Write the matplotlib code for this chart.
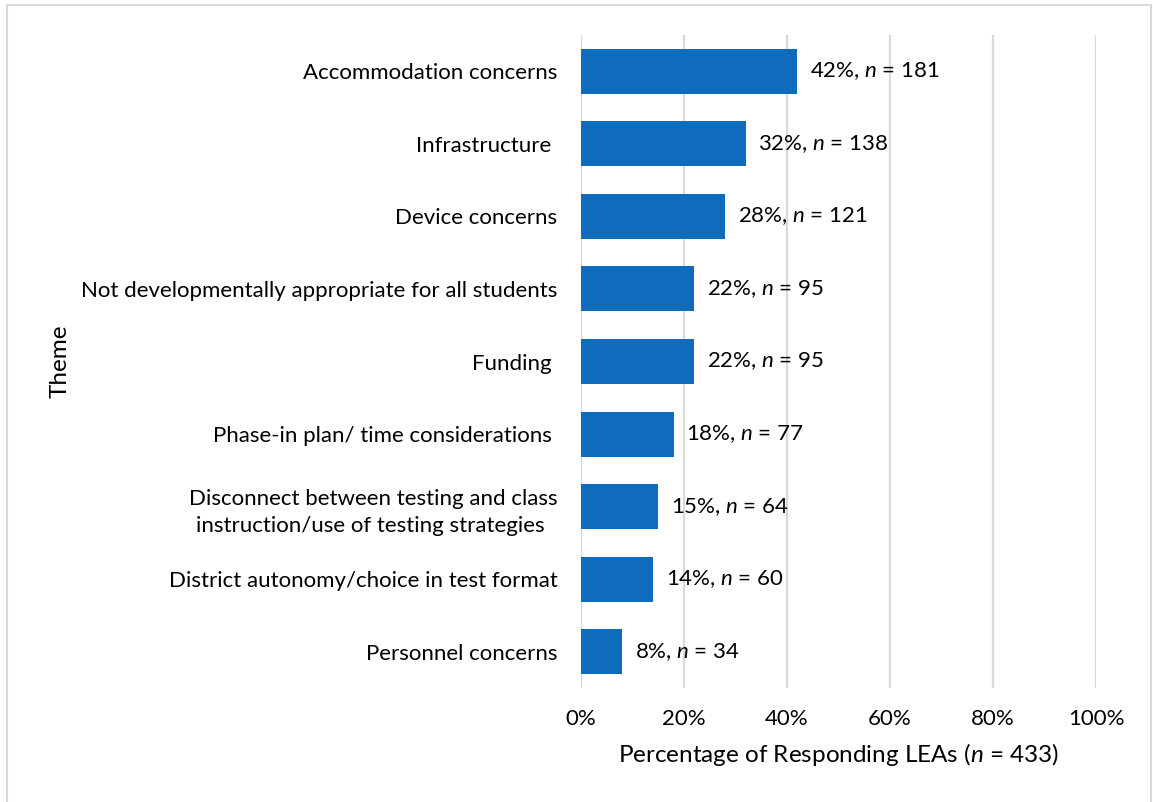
import matplotlib.pyplot as plt
from matplotlib.patches import Rectangle
from matplotlib.ticker import PercentFormatter

themes = [
    "Accommodation concerns",
    "Infrastructure ",
    "Device concerns",
    "Not developmentally appropriate for all students",
    "Funding ",
    "Phase-in plan/ time considerations ",
    "Disconnect between testing and class\ninstruction/use of testing strategies ",
    "District autonomy/choice in test format",
    "Personnel concerns",
]
pct = [42, 32, 28, 22, 22, 18, 15, 14, 8]
counts = [181, 138, 121, 95, 95, 77, 64, 60, 34]
xticks = [0, 20, 40, 60, 80, 100]

_BAR = "#0F6BBB"
_GRID = "#D9D9D9"
_INK = "#000000"

plt.rcParams["font.family"] = ["Lato", "DejaVu Sans"]
plt.rcParams["mathtext.fontset"] = "custom"
plt.rcParams["mathtext.rm"] = "Lato"
plt.rcParams["mathtext.it"] = "Lato:italic"

fig = plt.figure(figsize=(11.53, 8.02), dpi=100)
ax = fig.add_axes([581 / 1153, 1 - 688 / 802, 515 / 1153, 653 / 802])

ypos = list(range(len(themes)))
bars = ax.barh(ypos, pct, height=0.62, color=_BAR, zorder=3)
ax.set_ylim(len(themes) - 0.5, -0.5)
ax.set_xlim(0, 100)
ax.set_xticks(xticks)
ax.xaxis.set_major_formatter(PercentFormatter(decimals=0))
ax.set_yticks(ypos)
ax.set_yticklabels(themes, fontsize=16, color=_INK)
for lab in ax.get_yticklabels():
    lab.set_multialignment("center")
    lab.set_linespacing(1.45)
ax.tick_params(axis="y", length=0, pad=17)
ax.tick_params(axis="x", length=0, pad=15, labelsize=16, labelcolor=_INK)
ax.grid(axis="x", color=_GRID, lw=1.6, zorder=0)
for spine in ax.spines.values():
    spine.set_visible(False)
ax.axvline(0, color=_GRID, lw=1.6, zorder=1)

ax.bar_label(bars, labels=[f"{p}%, $n$ = {c}" for p, c in zip(pct, counts)],
             padding=9, fontsize=16, color=_INK)

ax.set_xlabel("Percentage of Responding LEAs ($n$ = 433)", fontsize=17.5,
              color=_INK, labelpad=9)
fig.text(60 / 1153, 1 - 361 / 802, "Theme", rotation=90, fontsize=17.5, color=_INK,
         ha="center", va="center")

fig.patches.append(Rectangle((7 / 1153, -0.05), 1144 / 1153, 1.05 - 5 / 802,
                             transform=fig.transFigure, fill=False,
                             edgecolor="#D9D9D9", lw=1.5))

fig.savefig("out.png", dpi=100, facecolor="white")
